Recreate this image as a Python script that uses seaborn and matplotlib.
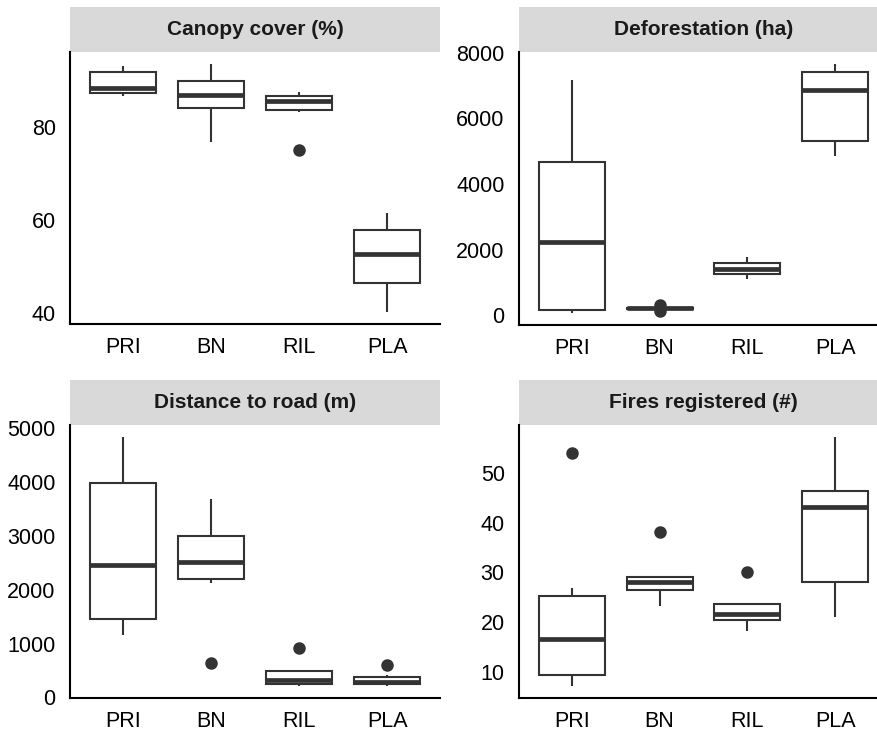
import numpy as np
import pandas as pd
import matplotlib
matplotlib.use("Agg")
import matplotlib.pyplot as plt
from matplotlib.patches import Rectangle
from matplotlib.ticker import MultipleLocator
import seaborn as sns

sns.set_style("white")
plt.rcParams["font.family"] = ["Liberation Sans", "DejaVu Sans"]

# Land-use classes shown on every panel
groups = ["PRI", "BN", "RIL", "PLA"]

# Sampled values per land-use class
canopy_cover = {
    "PRI": [86.8, 87.1, 87.4, 88.0, 88.5, 90.2, 91.9, 92.5, 93.1],
    "BN":  [76.8, 80.5, 84.2, 85.6, 87.0, 88.5, 90.0, 91.8, 93.5],
    "RIL": [75.0, 83.2, 83.6, 84.6, 85.6, 86.2, 86.7, 87.2, 87.6],
    "PLA": [40.3, 43.4, 46.4, 49.5, 52.6, 55.2, 57.8, 59.7, 61.6],
}
deforestation = {
    "PRI": [80, 120, 150, 1200, 2240, 3500, 4670, 5900, 7160],
    "BN":  [130, 190, 195, 205, 210, 215, 225, 235, 320],
    "RIL": [1100, 1180, 1244, 1330, 1406, 1500, 1599, 1680, 1764],
    "PLA": [4861, 5080, 5298, 6100, 6848, 7100, 7407, 7520, 7643],
}
distance_road = {
    "PRI": [1154, 1300, 1466, 1900, 2463, 3200, 3977, 4400, 4832],
    "BN":  [636, 2120, 2195, 2350, 2513, 2750, 2992, 3300, 3678],
    "RIL": [219, 235, 250, 290, 329, 420, 498, 498, 924],
    "PLA": [219, 235, 250, 270, 284, 330, 380, 410, 600],
}
fires = {
    "PRI": [7.3, 8.5, 9.5, 13.0, 16.6, 21.0, 25.3, 26.8, 54.0],
    "BN":  [23.2, 25.5, 26.5, 27.5, 28.1, 28.6, 29.0, 29.0, 38.1],
    "RIL": [18.2, 19.5, 20.4, 21.0, 21.6, 22.8, 23.6, 23.9, 30.0],
    "PLA": [21.1, 25.0, 28.0, 36.0, 43.1, 45.0, 46.3, 52.0, 57.1],
}

panel_titles = ["Canopy cover (%)", "Deforestation (ha)",
                "Distance to road (m)", "Fires registered (#)"]
panel_data = [canopy_cover, deforestation, distance_road, fires]
tick_steps = [20, 2000, 1000, 10]

W, H = 878, 733
fig = plt.figure(figsize=(W / 100, H / 100), dpi=100)

# panel boxes in pixels: left, top, width, height (plot area only)
boxes = [
    (70, 52, 370, 272),
    (519, 52, 369, 273),
    (70, 425, 370, 273),
    (519, 425, 369, 273),
]
strip_h = 45
dark = "#333333"

for (px, py, pw, ph), title, data, step in zip(boxes, panel_titles, panel_data, tick_steps):
    ax = fig.add_axes([px / W, 1 - (py + ph) / H, pw / W, ph / H])
    df = pd.DataFrame(
        [(g, v) for g in groups for v in data[g]], columns=["group", "value"]
    )
    sns.boxplot(
        data=df, x="group", y="value", order=groups, ax=ax,
        width=0.75, color="white", linecolor=dark, linewidth=1.5,
        showcaps=False, whis=1.5, fliersize=8,
        flierprops=dict(marker="o", markerfacecolor=dark,
                        markeredgecolor=dark),
        medianprops=dict(linewidth=3.4, color=dark),
    )
    ax.set_xlim(-0.6, 3.6)
    ax.margins(y=0.05)
    ax.autoscale(axis="y")
    ax.yaxis.set_major_locator(MultipleLocator(step))
    ax.set_xlabel("")
    ax.set_ylabel("")
    for side in ("top", "right"):
        ax.spines[side].set_visible(False)
    for side in ("left", "bottom"):
        ax.spines[side].set_color("black")
        ax.spines[side].set_linewidth(1.5)
    ax.tick_params(axis="both", which="major", direction="out",
                   length=4.8, width=1.2, color=dark,
                   labelsize=15.5, labelcolor="black")
    ax.tick_params(axis="y", pad=5.5)
    ax.tick_params(axis="x", pad=4.5)
    ax.set_facecolor("white")

    # facet strip above the panel
    sh = strip_h / ph
    ax.add_patch(Rectangle((0, 1), 1, sh, transform=ax.transAxes,
                           facecolor="#D9D9D9", edgecolor="none",
                           clip_on=False))
    ax.text(0.5, 1 + sh / 2, title, transform=ax.transAxes,
            ha="center", va="center", fontsize=15, fontweight="bold",
            color="#1A1A1A")

fig.savefig("out.png", dpi=100, facecolor="white")
